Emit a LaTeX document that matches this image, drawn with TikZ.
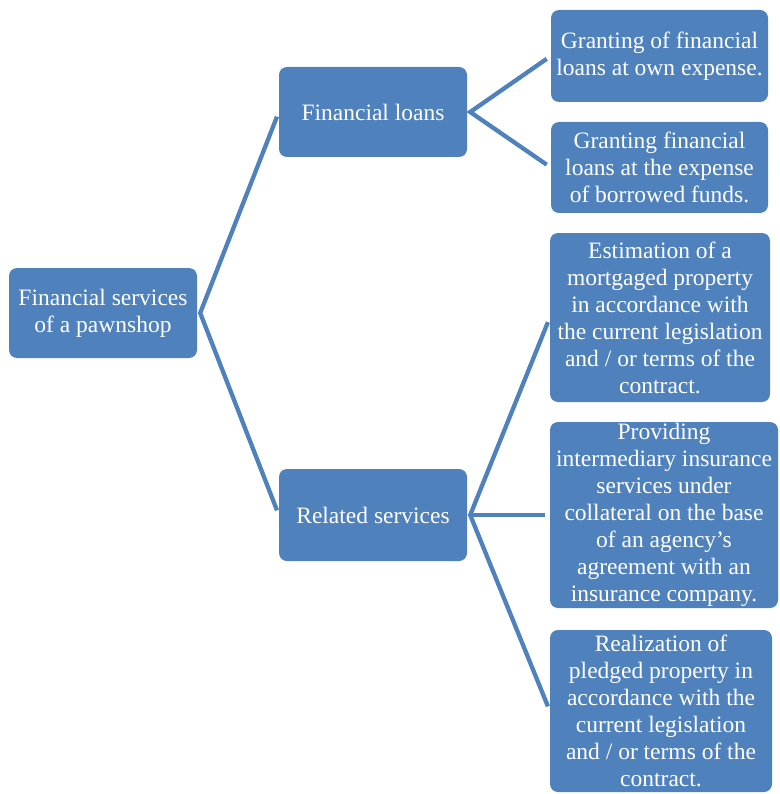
\documentclass[tikz,border=0pt]{standalone}
\usepackage{fontspec}
\setmainfont{Liberation Serif}[Ligatures=ResetAll]
\definecolor{smartblue}{HTML}{4F81BD}

\begin{document}
\begin{tikzpicture}[x=1pt, y=1pt,
  blk/.style={fill=smartblue, draw=none, rounded corners=8pt, inner sep=0pt,
    text=white, align=center, font=\fontsize{23.5}{27}\selectfont},
  link/.style={draw=smartblue, line width=4.3pt, shorten <=5pt, shorten >=5pt}]

\useasboundingbox (0,0) rectangle (779,-794);

\node[blk, minimum width=188pt, minimum height=90pt] (pawnshop) at (103,-313)
  {Financial services\\of a pawnshop};
\node[blk, minimum width=188pt, minimum height=90pt] (loans) at (373,-112)
  {Financial loans};
\node[blk, minimum width=188pt, minimum height=92pt] (related) at (373,-515)
  {Related services};

\node[blk, minimum width=217pt, minimum height=92pt] (ownexp) at (659.5,-56)
  {Granting of financial\\loans at own expense.};
\node[blk, minimum width=217pt, minimum height=91pt] (borrowed) at (659.5,-167.5)
  {Granting financial\\loans at the expense\\of borrowed funds.};
\node[blk, minimum width=220pt, minimum height=169pt] (estimation) at (660,-317.5)
  {Estimation of a\\mortgaged property\\in accordance with\\the current legislation\\and / or terms of the\\contract.};
\node[blk, minimum width=228pt, minimum height=186pt] (insurance) at (664,-515)
  {Providing\\intermediary insurance\\services under\\collateral on the base\\of an agency's\\agreement with an\\insurance company.};
\node[blk, minimum width=222pt, minimum height=162pt] (realization) at (661,-711)
  {Realization of\\pledged property in\\accordance with the\\current legislation\\and / or terms of the\\contract.};

% connectors
\draw[link, line join=miter] (loans.west) -- ([xshift=3pt]pawnshop.east) -- (related.west);
\draw[link, line join=miter] (ownexp.west) -- ([xshift=3pt]loans.east) -- (borrowed.west);
\draw[link, line join=miter] (estimation.west) -- ([xshift=3pt]related.east) -- (realization.west);
\draw[link] (related.east) -- (insurance.west);

\end{tikzpicture}
\end{document}
